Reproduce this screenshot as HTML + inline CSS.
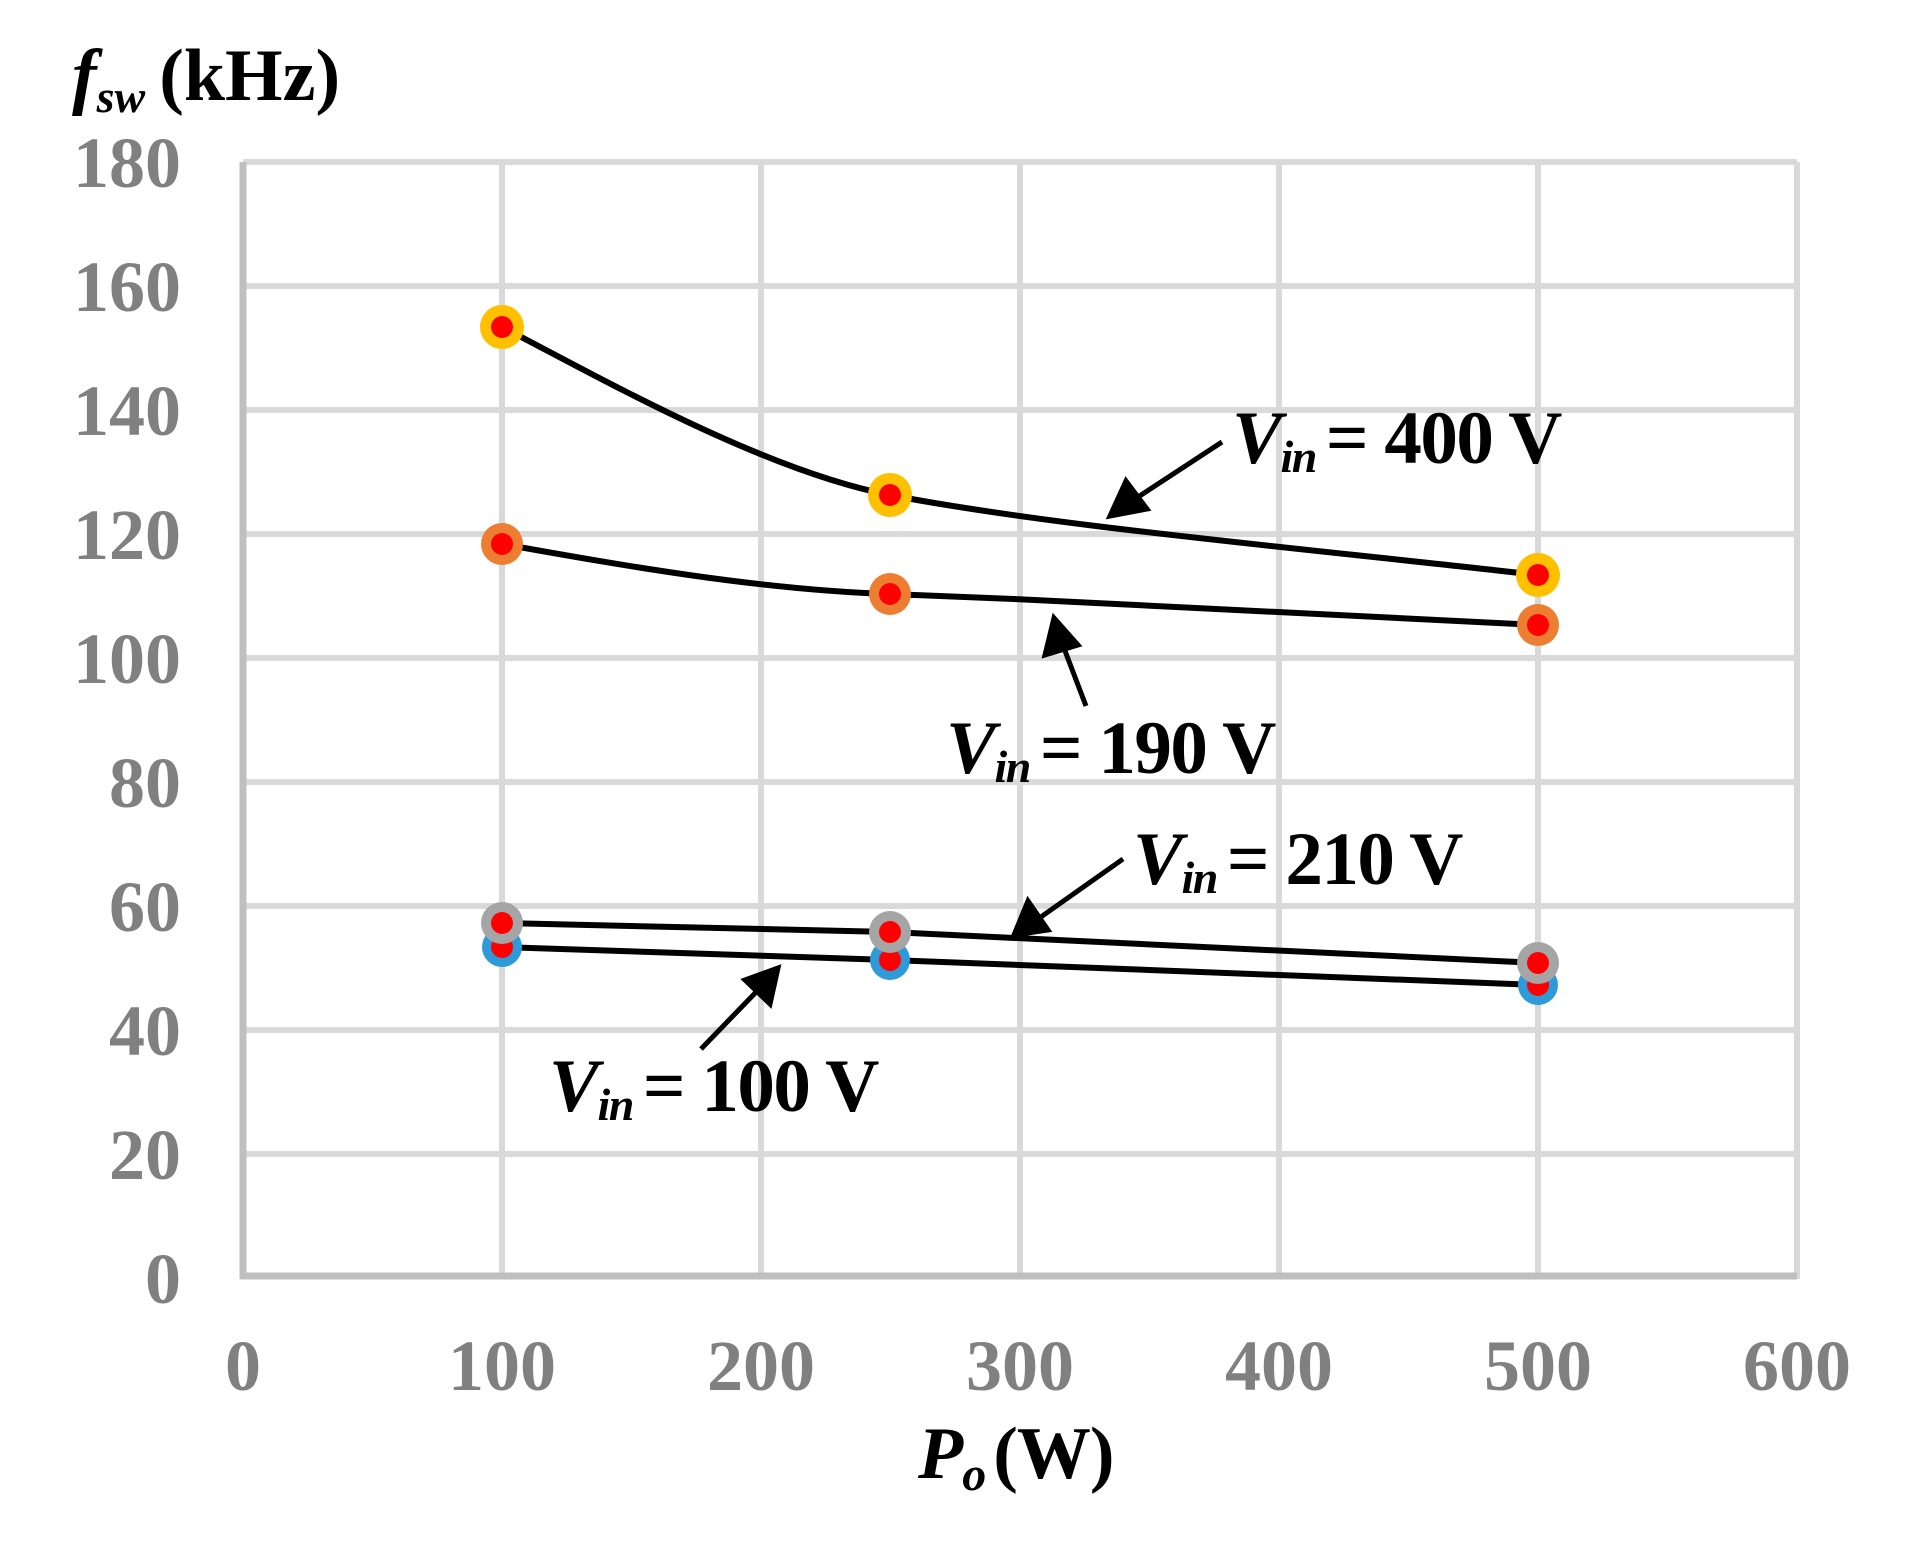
<!DOCTYPE html>
<html><head><meta charset="utf-8"><style>
html,body{margin:0;padding:0;background:#fff;}
svg{display:block;}
text{font-family:"Liberation Serif",serif;font-weight:bold;}
</style></head><body>
<svg width="1915" height="1544" viewBox="0 0 1915 1544" xmlns="http://www.w3.org/2000/svg">
<g stroke="#d9d9d9" stroke-width="6">
<line x1="243" y1="162" x2="1797" y2="162"/>
<line x1="243" y1="286" x2="1797" y2="286"/>
<line x1="243" y1="410" x2="1797" y2="410"/>
<line x1="243" y1="534" x2="1797" y2="534"/>
<line x1="243" y1="658" x2="1797" y2="658"/>
<line x1="243" y1="782" x2="1797" y2="782"/>
<line x1="243" y1="906" x2="1797" y2="906"/>
<line x1="243" y1="1030" x2="1797" y2="1030"/>
<line x1="243" y1="1154" x2="1797" y2="1154"/>
<line x1="502" y1="162" x2="502" y2="1276"/>
<line x1="761" y1="162" x2="761" y2="1276"/>
<line x1="1020" y1="162" x2="1020" y2="1276"/>
<line x1="1279" y1="162" x2="1279" y2="1276"/>
<line x1="1538" y1="162" x2="1538" y2="1276"/>
<line x1="1797" y1="162" x2="1797" y2="1279"/>
</g>
<g stroke="#bfbfbf" stroke-width="7">
<line x1="243" y1="162" x2="243" y2="1279"/>
<line x1="240" y1="1276" x2="1797" y2="1276"/>
</g>
<g fill="#808080" font-size="72" text-anchor="end">
<text x="181" y="187">180</text>
<text x="181" y="311">160</text>
<text x="181" y="435">140</text>
<text x="181" y="559">120</text>
<text x="181" y="683">100</text>
<text x="181" y="807">80</text>
<text x="181" y="931">60</text>
<text x="181" y="1055">40</text>
<text x="181" y="1179">20</text>
<text x="181" y="1303">0</text>
</g>
<g fill="#808080" font-size="72" text-anchor="middle">
<text x="243" y="1390">0</text>
<text x="502" y="1390">100</text>
<text x="761" y="1390">200</text>
<text x="1020" y="1390">300</text>
<text x="1279" y="1390">400</text>
<text x="1538" y="1390">500</text>
<text x="1797" y="1390">600</text>
</g>
<text x="72" y="100" font-size="74" fill="#000"><tspan font-style="italic">f</tspan><tspan font-style="italic" font-size="46" dy="12">sw</tspan><tspan dy="-12" dx="14">(kHz)</tspan></text>
<text x="918" y="1478" font-size="74" fill="#000" letter-spacing="-1"><tspan font-style="italic">P</tspan><tspan font-style="italic" font-size="48" dy="12">o</tspan><tspan dy="-12" dx="8">(W)</tspan></text>
<g fill="none" stroke="#000" stroke-width="6">
<path d="M502,327 C590,372 760,470 890,495 C1050,526 1300,548 1538,575"/>
<path d="M502,544 C620,565 760,590 890,594 C1100,602 1300,612 1538,625"/>
<path d="M502,923 L890,932 L1538,963"/>
<path d="M502,947 L890,960 L1538,985"/>
</g>
<g>
<circle cx="502" cy="947" r="20" fill="#2e9ad8"/><circle cx="502" cy="947" r="11" fill="#ff0000"/>
<circle cx="890" cy="960" r="20" fill="#2e9ad8"/><circle cx="890" cy="960" r="11" fill="#ff0000"/>
<circle cx="1538" cy="985" r="20" fill="#2e9ad8"/><circle cx="1538" cy="985" r="11" fill="#ff0000"/>
<circle cx="502" cy="923" r="21" fill="#a5a5a5"/><circle cx="502" cy="923" r="11" fill="#ff0000"/>
<circle cx="890" cy="932" r="21" fill="#a5a5a5"/><circle cx="890" cy="932" r="11" fill="#ff0000"/>
<circle cx="1538" cy="963" r="21" fill="#a5a5a5"/><circle cx="1538" cy="963" r="11" fill="#ff0000"/>
<circle cx="502" cy="544" r="21" fill="#ed7d31"/><circle cx="502" cy="544" r="11" fill="#ff0000"/>
<circle cx="890" cy="594" r="21" fill="#ed7d31"/><circle cx="890" cy="594" r="11" fill="#ff0000"/>
<circle cx="1538" cy="625" r="21" fill="#ed7d31"/><circle cx="1538" cy="625" r="11" fill="#ff0000"/>
<circle cx="502" cy="327" r="22" fill="#ffc000"/><circle cx="502" cy="327" r="11" fill="#ff0000"/>
<circle cx="890" cy="495" r="22" fill="#ffc000"/><circle cx="890" cy="495" r="11" fill="#ff0000"/>
<circle cx="1538" cy="575" r="22" fill="#ffc000"/><circle cx="1538" cy="575" r="11" fill="#ff0000"/>
</g>
<g stroke="#000" stroke-width="5" fill="#000">
<line x1="1222" y1="442" x2="1135" y2="499"/>
<polygon points="1110,516 1126,481 1147,509"/>
<line x1="1086" y1="706" x2="1062" y2="643"/>
<polygon points="1054,618 1045,655 1078,645"/>
<line x1="1123" y1="859" x2="1038" y2="919"/>
<polygon points="1014,935 1028,901 1048,930"/>
<line x1="701" y1="1049" x2="760" y2="988"/>
<polygon points="778,968 770,1004 745,980"/>
</g>
<g fill="#000" font-size="75" letter-spacing="-1.5">
<text x="1232" y="463"><tspan font-style="italic">V</tspan><tspan font-style="italic" font-size="46" dy="9">in</tspan><tspan dy="-9" dx="10">= 400 V</tspan></text>
<text x="946" y="773"><tspan font-style="italic">V</tspan><tspan font-style="italic" font-size="46" dy="9">in</tspan><tspan dy="-9" dx="10">= 190 V</tspan></text>
<text x="1133" y="884"><tspan font-style="italic">V</tspan><tspan font-style="italic" font-size="46" dy="9">in</tspan><tspan dy="-9" dx="10">= 210 V</tspan></text>
<text x="549" y="1111"><tspan font-style="italic">V</tspan><tspan font-style="italic" font-size="46" dy="9">in</tspan><tspan dy="-9" dx="10">= 100 V</tspan></text>
</g>
</svg>
</body></html>
